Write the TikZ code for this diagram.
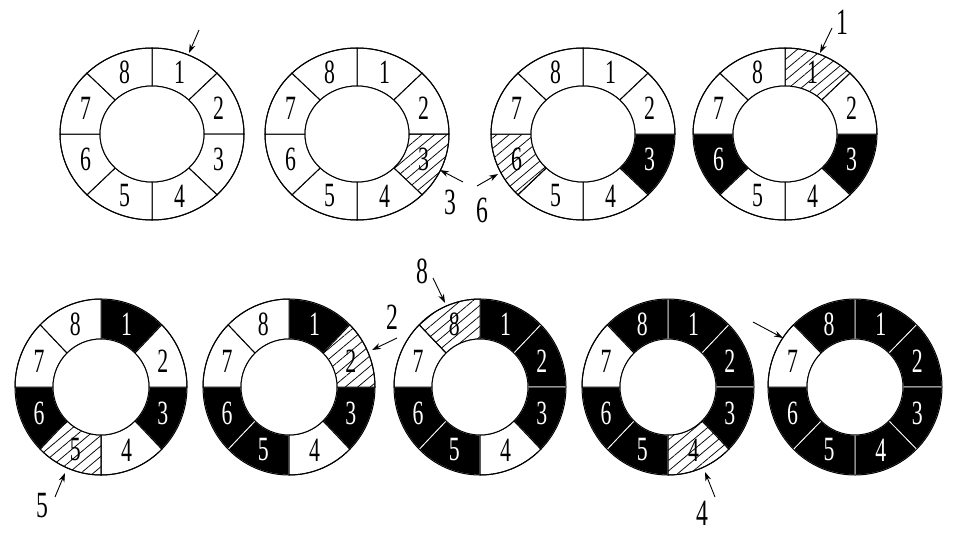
\documentclass[tikz,border=0pt]{standalone}
\usepackage{fontspec}
\setmainfont{Liberation Serif}
\newfontfamily\numfont[FakeStretch=0.64]{Liberation Serif}
\usetikzlibrary{patterns.meta,arrows.meta}
\tikzset{
 ringline/.style={draw=black,line width=1pt},
 p1b/.style={fill=black,draw=white,line width=0.8pt},
 p1w/.style={},
 p1h/.style={},
 p2b/.style={},
 p2w/.style={fill=white,ringline},
 p2h/.style={pattern={Lines[angle=40,distance=8pt,line width=0.75pt]},ringline},
 numw/.style={font=\numfont\fontsize{34}{34}\selectfont,text=black,inner sep=0pt},
 numh/.style={numw},
 numb/.style={numw,text=white},
 lab/.style={font=\numfont\fontsize{37}{37}\selectfont,inner sep=0pt},
 pointer/.style={-{Stealth[length=9pt,width=6pt]},line width=0.9pt},
}
\newcommand\drawring[8]{%
 \begin{scope}[shift={(#2,#3)}]
  \pgfmathsetmacro\mx{(#4+#6)/2}
  \pgfmathsetmacro\my{(#5+#7)/2}
  \foreach \s [count=\k] in {#8} {
    \pgfmathsetmacro\aa{135-45*\k}
    \pgfmathsetmacro\ab{\aa-45}
    \path[p1\s] (\aa:#4pt and #5pt) arc[start angle=\aa,end angle=\ab,x radius=#4pt,y radius=#5pt] -- (\ab:#6pt and #7pt) arc[start angle=\ab,end angle=\aa,x radius=#6pt,y radius=#7pt] -- cycle;
  }
  \foreach \s [count=\k] in {#8} {
    \pgfmathsetmacro\aa{135-45*\k}
    \pgfmathsetmacro\ab{\aa-45}
    \path[p2\s] (\aa:#4pt and #5pt) arc[start angle=\aa,end angle=\ab,x radius=#4pt,y radius=#5pt] -- (\ab:#6pt and #7pt) arc[start angle=\ab,end angle=\aa,x radius=#6pt,y radius=#7pt] -- cycle;
  }
  \draw[ringline] (0,0) ellipse[x radius=#4pt,y radius=#5pt];
  \draw[ringline,fill=white] (0,0) ellipse[x radius=#6pt,y radius=#7pt];
  \foreach \s [count=\k] in {#8} {
    \pgfmathsetmacro\am{112.5-45*\k}
    \node[num\s] (#1-\k) at (\am:\mx pt and \my pt) {\k};
  }
 \end{scope}}
\begin{document}
\begin{tikzpicture}[x=1pt,y=-1pt]
\useasboundingbox (0,0) rectangle (953,541);
\fill[white] (0,0) rectangle (953,541);
\drawring{r1}{152}{134}{92}{86}{52}{48}{w,w,w,w,w,w,w,w}
\drawring{r2}{357}{134}{92}{86}{52}{48}{w,w,h,w,w,w,w,w}
\drawring{r3}{583}{134}{92}{86}{52}{48}{w,w,b,w,w,h,w,w}
\drawring{r4}{785}{134}{92}{86}{52}{48}{h,w,b,w,w,b,w,w}
\drawring{r5}{101}{387}{86}{88}{48}{48}{b,w,b,w,h,b,w,w}
\drawring{r6}{289}{387}{86}{88}{48}{48}{b,h,b,w,b,b,w,w}
\drawring{r7}{480}{387}{86}{88}{48}{48}{b,b,b,w,b,b,w,h}
\drawring{r8}{668}{387}{86}{88}{48}{48}{b,b,b,h,b,b,w,b}
\drawring{r9}{855}{387}{87}{88}{48}{48}{b,b,b,b,b,b,w,b}
% pointer arrows
\coordinate (t1) at (199,30);  \coordinate (h1) at (189,53);
\coordinate (t2) at (463,182); \coordinate (h2) at (440,170);
\coordinate (t3) at (477,186); \coordinate (h3) at (498,174);
\coordinate (t4) at (832,28);  \coordinate (h4) at (820,53);
\coordinate (t5) at (55,497);  \coordinate (h5) at (65,473);
\coordinate (t6) at (397,338); \coordinate (h6) at (372,350);
\coordinate (t7) at (433,278); \coordinate (h7) at (445,303);
\coordinate (t8) at (715,497); \coordinate (h8) at (705,472);
\coordinate (t9) at (753,322); \coordinate (h9) at (783,338);
\foreach \i in {1,...,9} \draw[pointer] (t\i) -- (h\i);
% labels
\node[lab] (L2) at (450,202) {3};
\node[lab] (L3) at (482,210) {6};
\node[lab] (L4) at (842,22) {1};
\node[lab] (L5) at (42,506) {5};
\node[lab] (L6) at (392,317) {2};
\node[lab] (L7) at (422,271) {8};
\node[lab] (L8) at (702,513) {4};
\end{tikzpicture}
\end{document}
